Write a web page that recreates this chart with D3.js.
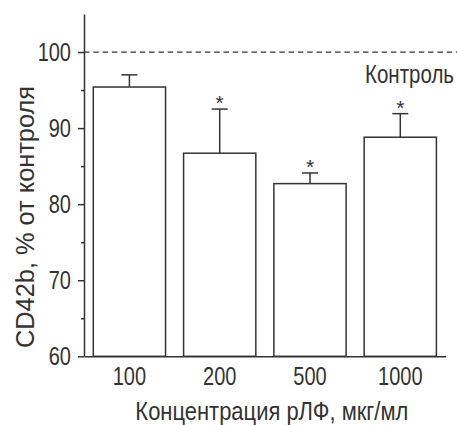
<!DOCTYPE html>
<html><head><meta charset="utf-8">
<script src="https://cdn.jsdelivr.net/npm/d3@7"></script>
<style>
html,body{margin:0;padding:0;background:#fff;}
svg{display:block;}
text{font-family:"Liberation Sans",Arial,sans-serif;fill:#333;}
</style></head>
<body>
<svg id="chart" width="457" height="425"></svg>
<script>
const categories = ["100", "200", "500", "1000"];
const values = [95.4, 86.7, 82.7, 88.8];
const errors = [1.6, 5.8, 1.4, 3.1];
const significant = [false, true, true, true];
const yMajorTicks = [60, 70, 80, 90, 100];
const yMinorTicks = [65, 75, 85, 95];
const controlValue = 100;
const controlLabel = "Контроль";
const xTitle = "Концентрация рЛФ, мкг/мл";
const yTitle = "CD42b, % от контроля";

(function () {
const svg = d3.select("#chart");
const ink = "#333";
const pl = 84, pr = 445.7, pt = 14, pb = 356.3;
const squeeze = 0.8;
function narrow(sel, factor) {
  sel.each(function () {
    const w = this.getComputedTextLength();
    d3.select(this).attr("textLength", w * factor).attr("lengthAdjust", "spacingAndGlyphs");
  });
}

const x = d3.scaleBand().domain(categories).range([pl, pr]).paddingInner(0.2).paddingOuter(0.103);
const y = d3.scaleLinear().domain([60, 105]).range([pb, pt]);

// dashed control line
svg.append("line")
  .attr("x1", pl).attr("x2", 457)
  .attr("y1", y(controlValue)).attr("y2", y(controlValue))
  .attr("stroke", ink).attr("stroke-width", 1.3)
  .attr("stroke-dasharray", "5.5,3.8");

const ctlG = svg.append("g");
const ctl = ctlG.append("text")
  .attr("text-anchor", "end").attr("font-size", 25)
  .text(controlLabel);
const ctlW = ctl.node().getComputedTextLength();
ctlG.attr("transform", `translate(454,${y(controlValue) + 31}) scale(${89 / ctlW},1)`);

// bars
const g = svg.append("g");
g.selectAll("rect.bar").data(values).join("rect")
  .attr("class", "bar")
  .attr("x", (d, i) => x(categories[i]))
  .attr("width", x.bandwidth())
  .attr("y", d => y(d))
  .attr("height", d => y(60) - y(d))
  .attr("fill", "#fff").attr("stroke", ink).attr("stroke-width", 1.5);

// error bars
const cx = i => x(categories[i]) + x.bandwidth() / 2;
g.selectAll("line.err").data(values).join("line")
  .attr("class", "err")
  .attr("x1", (d, i) => cx(i)).attr("x2", (d, i) => cx(i))
  .attr("y1", d => y(d)).attr("y2", (d, i) => y(d + errors[i]))
  .attr("stroke", ink).attr("stroke-width", 1.5);
g.selectAll("line.cap").data(values).join("line")
  .attr("class", "cap")
  .attr("x1", (d, i) => cx(i) - 8).attr("x2", (d, i) => cx(i) + 8)
  .attr("y1", (d, i) => y(d + errors[i])).attr("y2", (d, i) => y(d + errors[i]))
  .attr("stroke", ink).attr("stroke-width", 1.5);

// asterisks
g.selectAll("text.star").data(values).join("text")
  .attr("class", "star")
  .attr("x", (d, i) => cx(i))
  .attr("y", (d, i) => y(d + errors[i]) + 1)
  .attr("text-anchor", "middle").attr("font-size", 21)
  .text((d, i) => significant[i] ? "*" : "");

// y axis
const yAxis = svg.append("g").attr("transform", `translate(${pl},0)`)
  .call(d3.axisLeft(y).tickValues(yMajorTicks).tickSize(6).tickSizeOuter(0).tickPadding(7));
yAxis.select(".domain").attr("stroke", ink).attr("stroke-width", 1.5);
yAxis.selectAll(".tick line").attr("stroke", ink).attr("stroke-width", 1.5);
yAxis.selectAll(".tick text").attr("font-size", 25).attr("font-family", null).attr("fill", ink)
  .call(narrow, squeeze);

const yMinor = svg.append("g").attr("transform", `translate(${pl},0)`)
  .call(d3.axisLeft(y).tickValues(yMinorTicks).tickSize(3).tickFormat(""));
yMinor.select(".domain").remove();
yMinor.selectAll(".tick line").attr("stroke", ink).attr("stroke-width", 1.5);

// x axis
const xAxis = svg.append("g").attr("transform", `translate(0,${pb})`)
  .call(d3.axisBottom(x).tickSizeInner(0).tickSizeOuter(0).tickPadding(11));
xAxis.select(".domain").attr("stroke", ink).attr("stroke-width", 1.5);
xAxis.selectAll(".tick text").attr("font-size", 25).attr("font-family", null).attr("fill", ink)
  .call(narrow, squeeze);

// titles
svg.append("text")
  .attr("x", (pl + pr) / 2 + 7).attr("y", 420)
  .attr("text-anchor", "middle").attr("font-size", 25)
  .attr("textLength", 273).attr("lengthAdjust", "spacingAndGlyphs")
  .text(xTitle);

svg.append("text")
  .attr("transform", `translate(34,${217}) rotate(-90)`)
  .attr("text-anchor", "middle").attr("font-size", 25)
  .attr("textLength", 262).attr("lengthAdjust", "spacingAndGlyphs")
  .text(yTitle);
})();
</script>
</body></html>
